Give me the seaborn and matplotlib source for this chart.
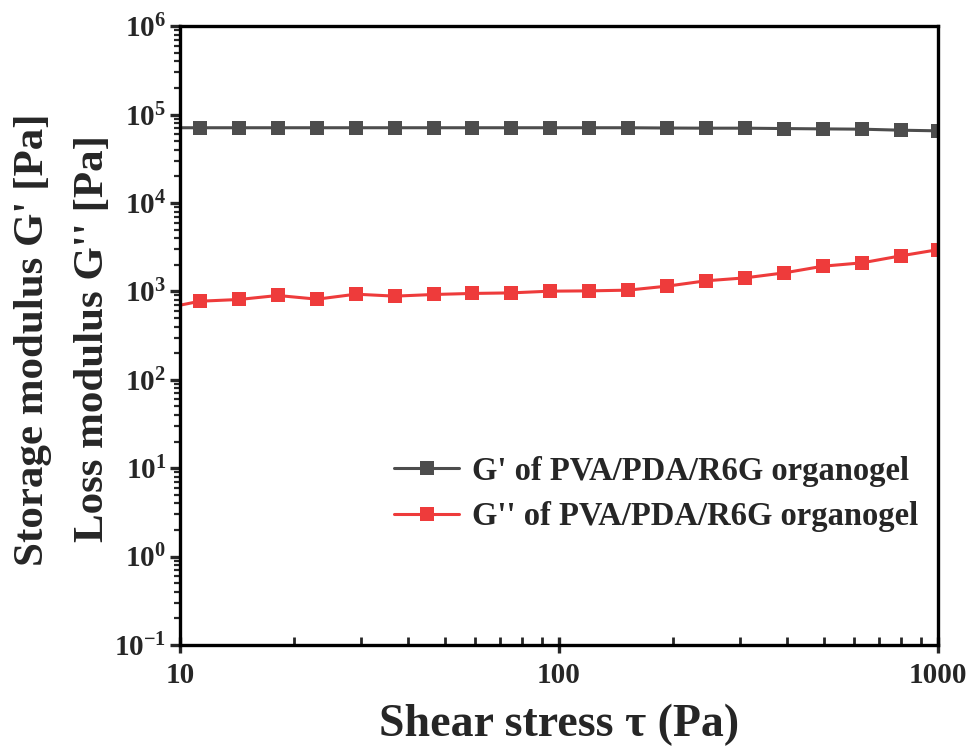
import numpy as np
import pandas as pd
import matplotlib
matplotlib.use("Agg")
import matplotlib.pyplot as plt
import seaborn as sns
from matplotlib.ticker import LogLocator, FuncFormatter, NullFormatter, FixedLocator

# ---- data ----
shear_stress = [8.9, 11.3, 14.3, 18.1, 23.0, 29.1, 36.9, 46.8, 58.9, 74.7, 94.7,
                120, 152, 193, 244, 310, 393, 498, 630, 798, 1000]
g_storage = [71000, 71000, 71000, 71000, 71000, 71000, 71000, 71000, 71000, 71000, 71000,
             71000, 71000, 70500, 70200, 70200, 69500, 68900, 68400, 66600, 65500]
g_loss = [632, 774, 809, 898, 816, 929, 883, 922, 947, 961, 1005,
          1013, 1032, 1146, 1316, 1422, 1619, 1928, 2102, 2523, 2963]
series_names = ["G' of PVA/PDA/R6G organogel", "G'' of PVA/PDA/R6G organogel"]
x_ticks = [10, 100, 1000]
x_ticklabels = ["10", "100", "1000"]
y_exponents = [-1, 0, 1, 2, 3, 4, 5, 6]
y_label_lines = ["Storage modulus G' [Pa]", "Loss modulus G'' [Pa]"]
x_label = "Shear stress \u03c4 (Pa)"

df = pd.DataFrame({
    "x": shear_stress * 2,
    "y": g_storage + g_loss,
    "series": [series_names[0]] * len(shear_stress) + [series_names[1]] * len(shear_stress),
})

sns.set_theme(style="white")
plt.rcParams["font.family"] = ["Liberation Serif", "DejaVu Serif"]
plt.rcParams["font.weight"] = "bold"
plt.rcParams["mathtext.fontset"] = "custom"
plt.rcParams["mathtext.rm"] = "Liberation Serif:bold"
plt.rcParams["mathtext.bf"] = "Liberation Serif:bold"
plt.rcParams["mathtext.it"] = "Liberation Serif:bold:italic"
plt.rcParams["mathtext.default"] = "bf"

fig = plt.figure(figsize=(9.68, 7.49), dpi=100)
ax = fig.add_axes([0.186, 0.139, 0.783, 0.826])

palette = {series_names[0]: "#4D4D4D", series_names[1]: "#EE3B3B"}
sns.lineplot(data=df, x="x", y="y", hue="series", palette=palette, marker="s",
             markersize=10, markeredgewidth=0, linewidth=2.2, ax=ax, sort=False,
             estimator=None)

ax.set_xscale("log")
ax.set_yscale("log")
ax.set_xlim(10, 1000)
ax.set_ylim(0.1, 1e6)

ax.xaxis.set_major_locator(FixedLocator(x_ticks))
ax.set_xticklabels(x_ticklabels)
ax.xaxis.set_minor_locator(LogLocator(base=10, subs=np.arange(2, 10)))
ax.xaxis.set_minor_formatter(NullFormatter())

ax.yaxis.set_major_locator(FixedLocator([10.0 ** e for e in y_exponents]))
ax.yaxis.set_major_formatter(FuncFormatter(lambda v, p: r"$10^{%d}$" % int(round(np.log10(v)))))
ax.yaxis.set_minor_locator(LogLocator(base=10, subs=np.arange(2, 10), numticks=20))
ax.yaxis.set_minor_formatter(NullFormatter())

for s in ax.spines.values():
    s.set_linewidth(2.4)
    s.set_color("black")

ax.tick_params(axis="x", which="major", direction="inout", length=12, width=2.4,
               labelsize=21, pad=6, bottom=True, top=False)
ax.tick_params(axis="x", which="minor", direction="in", length=6, width=2.0,
               bottom=True, top=False)
ax.tick_params(axis="y", which="major", direction="out", length=7, width=2.4,
               labelsize=21, pad=3, left=True, right=False)
ax.tick_params(axis="y", which="minor", direction="out", length=4, width=1.6,
               left=True, right=False)
for lab in ax.get_xticklabels() + ax.get_yticklabels():
    lab.set_fontweight("bold")

ax.set_xlabel(x_label, fontsize=33, fontweight="bold", labelpad=11)
ax.set_ylabel("")

fig.text(33 / 968, 1 - 340 / 749, y_label_lines[0], rotation=90, fontsize=31,
         fontweight="bold", ha="center", va="center")
fig.text(93 / 968, 1 - 338 / 749, y_label_lines[1], rotation=90, fontsize=31,
         fontweight="bold", ha="center", va="center")

handles, labels = ax.get_legend_handles_labels()
leg = ax.legend(handles, labels, loc="center right", bbox_to_anchor=(1.0, 0.244),
                frameon=False, fontsize=23.5, handlelength=2.0, handletextpad=0.4,
                labelspacing=0.45, borderaxespad=0.2)
for t in leg.get_texts():
    t.set_fontweight("bold")

fig.savefig("out.png", dpi=100)
